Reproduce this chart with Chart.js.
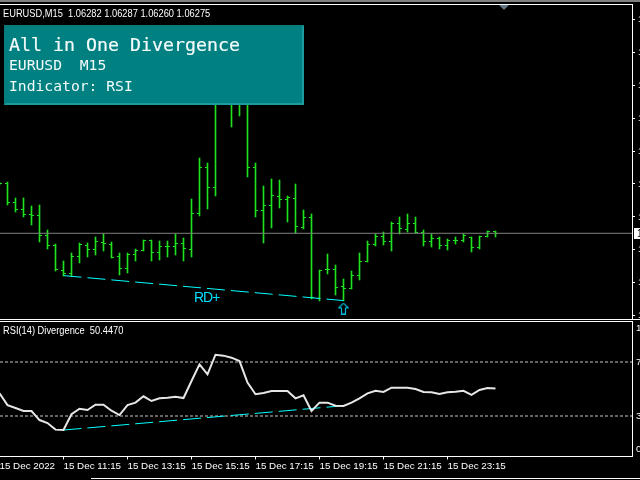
<!DOCTYPE html>
<html><head><meta charset="utf-8"><title>EURUSD M15 RSI Divergence</title>
<script src="https://cdn.jsdelivr.net/npm/chart.js@4"></script>
<style>
html,body{margin:0;padding:0;background:#000;width:640px;height:480px;overflow:hidden}
#wrap{position:relative;width:640px;height:480px;overflow:hidden;background:#000}
canvas{position:absolute;left:0}
.abs{position:absolute;white-space:pre;line-height:1}
.lbl{color:#fff;font:11px "Liberation Sans",sans-serif;transform:scaleX(.845);transform-origin:left top}
.w{position:absolute;background:#fff}
#panel{position:absolute;left:4px;top:25px;width:296px;height:76px;background:#008080;border:2px solid #109090;border-right-color:#1c9c9c;border-bottom-color:#1c9c9c;border-left-color:#0a7a7a;border-top-color:#0a7a7a}
#panel div{position:absolute;color:#f4fbfb;font-family:"DejaVu Sans Mono",monospace;white-space:pre;line-height:1}
</style></head><body>
<div id="wrap">
<canvas id="priceChart" width="640" height="320" style="top:0;width:640px;height:320px"></canvas>
<canvas id="rsiChart" width="640" height="160" style="top:320px;width:640px;height:160px"></canvas>
<div class="abs" style="left:0;top:0;width:640px;height:2px;background:#808080"></div>
<div class="abs" style="left:-2px;top:4px;width:633px;height:314px;border:1px solid #fff"></div>
<div class="w" style="left:0;top:319px;width:640px;height:1px"></div>
<div class="abs" style="left:-2px;top:321px;width:633px;height:134px;border:1px solid #fff"></div>
<div class="w" style="left:91px;top:478px;width:549px;height:1px"></div>
<div class="abs" style="left:499px;top:5px;width:0;height:0;border-left:5px solid transparent;border-right:5px solid transparent;border-top:5px solid #607585"></div>
<div class="abs lbl" id="legendPrice" style="left:3px;top:7px"></div>
<div class="abs lbl" id="legendRsi" style="left:3px;top:324px"></div>
<div class="abs" style="left:194px;top:289px;color:#00e0ff;font:14px 'Liberation Sans',sans-serif;letter-spacing:-1px">RD+</div>
<div class="abs" id="priceBox" style="left:634px;top:228px;width:6px;height:11px;background:#fff;overflow:hidden;color:#000;font:10px 'Liberation Sans',sans-serif"><span id="priceTxt" style="position:absolute;left:3px;top:0"></span></div>
<div id="panel">
<div style="left:3px;top:9px;font-size:18.3px;-webkit-text-stroke:.2px #f4fbfb">All in One Divergence</div>
<div style="left:3px;top:31px;font-size:14.7px">EURUSD  M15</div>
<div style="left:3px;top:52px;font-size:14.7px">Indicator: RSI</div>
</div>
</div>
<script>
const barNumbers=[-1,0,1,2,3,4,5,6,7,8,9,10,11,12,13,14,15,16,17,18,19,20,21,22,23,24,25,26,27,28,29,30,31,32,33,34,35,36,37,38,39,40,41,42,43,44,45,46,47,48,49,50,51,52,53,54,55,56,57,58,59,60,61];
const opens=[1.06503,1.06503,1.06416,1.06384,1.06362,1.06357,1.06266,1.06220,1.06106,1.06093,1.06171,1.06220,1.06202,1.06232,1.06225,1.06170,1.06115,1.06179,1.06197,1.06243,1.06188,1.06216,1.06216,1.06229,1.06202,1.06364,1.06573,1.06482,1.06951,1.07020,1.06906,1.06974,1.06576,1.06380,1.06403,1.06444,1.06430,1.06435,1.06302,1.06348,1.05979,1.06111,1.06111,1.06031,1.06024,1.06083,1.06147,1.06225,1.06261,1.06239,1.06321,1.06293,1.06321,1.06280,1.06239,1.06252,1.06220,1.06243,1.06240,1.06257,1.06211,1.06261,1.06282];
const highs=[1.06510,1.06509,1.06436,1.06436,1.06399,1.06404,1.06290,1.06225,1.06147,1.06184,1.06229,1.06229,1.06258,1.06273,1.06234,1.06184,1.06184,1.06202,1.06243,1.06243,1.06240,1.06240,1.06273,1.06252,1.06431,1.06617,1.06596,1.07020,1.07065,1.07042,1.06997,1.06997,1.06594,1.06491,1.06523,1.06518,1.06445,1.06500,1.06380,1.06363,1.06108,1.06181,1.06130,1.06067,1.06102,1.06185,1.06240,1.06273,1.06281,1.06327,1.06349,1.06363,1.06349,1.06290,1.06272,1.06257,1.06249,1.06258,1.06272,1.06257,1.06261,1.06285,1.06287];
const lows=[1.06495,1.06404,1.06373,1.06351,1.06313,1.06235,1.06205,1.06103,1.06082,1.06082,1.06141,1.06168,1.06177,1.06196,1.06164,1.06086,1.06093,1.06150,1.06196,1.06150,1.06155,1.06168,1.06177,1.06150,1.06168,1.06355,1.06387,1.06446,1.06906,1.06761,1.06811,1.06533,1.06351,1.06232,1.06301,1.06392,1.06328,1.06275,1.06296,1.05974,1.05968,1.06091,1.05995,1.05968,1.06021,1.06062,1.06145,1.06217,1.06222,1.06194,1.06273,1.06282,1.06275,1.06217,1.06213,1.06203,1.06199,1.06226,1.06235,1.06190,1.06203,1.06259,1.06260];
const closes=[1.06503,1.06415,1.06384,1.06362,1.06358,1.06266,1.06220,1.06111,1.06093,1.06171,1.06222,1.06202,1.06239,1.06229,1.06166,1.06115,1.06179,1.06196,1.06240,1.06188,1.06216,1.06216,1.06229,1.06207,1.06366,1.06573,1.06482,1.06951,1.07020,1.06906,1.06974,1.06576,1.06380,1.06403,1.06448,1.06430,1.06439,1.06304,1.06348,1.05980,1.06106,1.06111,1.06029,1.06024,1.06083,1.06147,1.06225,1.06261,1.06239,1.06321,1.06298,1.06321,1.06280,1.06239,1.06252,1.06220,1.06243,1.06243,1.06266,1.06211,1.06261,1.06281,1.06275];
const rsiValues=[46.8,38.1,35.9,33.7,33.7,27.0,24.8,19.9,19.6,31.3,35.4,34.4,38.4,38.4,33.9,30.7,38.1,39.9,44.6,41.1,43.1,43.6,44.3,43.3,55.9,68.3,60.9,75.4,74.7,73.2,70.7,54.7,46.1,47.0,48.5,48.5,48.5,43.1,45.3,33.7,39.9,39.9,37.6,37.4,39.9,43.1,46.8,48.7,47.8,51.0,51.0,51.0,50.0,47.8,47.6,46.3,47.6,48.0,48.7,45.6,49.3,50.7,50.447];
const priceTicks=[1.0725,1.0710,1.0695,1.0680,1.0665,1.0650,1.0635,1.0620,1.0605,1.0590];
const rsiTickSpots=[95.2,70,30,5.2];
const rsiTickLabels=['100','70','30','0'];
const rsiLevels=[70,30];
const timeTickBars=[-1,7,15,23,31,39,47,55];
const timeTickLabels=['15 Dec 2022','15 Dec 11:15','15 Dec 13:15','15 Dec 15:15','15 Dec 17:15','15 Dec 19:15','15 Dec 21:15','15 Dec 23:15'];
const priceDivBars=[7,42];
const priceDivValues=[1.06082,1.05968];
const rsiDivValues=[19.6,37.6];
const arrowBar=42, arrowPrice=1.05932;
const bidPrice=1.06275;
const symbolTitle='EURUSD,M15', legendOHLC='1.06282 1.06287 1.06260 1.06275', rsiLegend='RSI(14) Divergence', rsiLast='50.4470';
const xMin=-0.9375,xMax=78.0625,priceMin=1.05884,priceMax=1.07321;

const GREEN='#1ee01e',CYAN='#00ffff';
document.getElementById('legendPrice').textContent=symbolTitle+'  '+legendOHLC;
document.getElementById('legendRsi').textContent=rsiLegend+'  '+rsiLast;
document.getElementById('priceTxt').textContent=bidPrice.toFixed(5);

function tickMark(side){const c=document.createElement('canvas');c.width=5;c.height=1;const g=c.getContext('2d');g.fillStyle=GREEN;g.fillRect(side<0?0:3,0,2,1);return c;}
function arrowMark(){const c=document.createElement('canvas');c.width=11;c.height=12;const g=c.getContext('2d');g.strokeStyle='#00b8d8';g.lineWidth=1.2;g.beginPath();g.moveTo(5.5,.7);g.lineTo(10.3,5.5);g.lineTo(7.5,5.5);g.lineTo(7.5,11.3);g.lineTo(3.5,11.3);g.lineTo(3.5,5.5);g.lineTo(.7,5.5);g.closePath();g.stroke();return c;}
const snap={id:'snap',beforeDatasetsDraw(chart){chart.getSortedVisibleDatasetMetas().forEach(m=>{if(m.type==='bar'){m.data.forEach(b=>{b.y=Math.round(b.y);b.base=Math.round(b.base);});}else if(m.dataset&&!m.dataset.options.borderWidth){m.data.forEach(p=>{p.y=Math.floor(p.y)+.5;});}});}};
const noPad=s=>{s.paddingLeft=s.paddingRight=s.paddingTop=s.paddingBottom=0;};
const xBase={type:'linear',min:xMin,max:xMax,offset:false};
const font={family:'Liberation Sans',size:9.8};

new Chart(document.getElementById('priceChart'),{
 type:'bar',
 plugins:[snap],
 data:{datasets:[
  {type:'line',order:0,data:[{x:xMin,y:bidPrice},{x:xMax,y:bidPrice}],borderColor:'#808080',borderWidth:1,pointRadius:0},
  {type:'line',order:1,data:priceDivBars.map((b,i)=>({x:b,y:priceDivValues[i]})),borderColor:CYAN,borderWidth:1,borderDash:[18,6],pointRadius:0},
  {type:'line',order:1,data:[{x:arrowBar,y:arrowPrice}],showLine:false,pointStyle:arrowMark(),pointRadius:6,borderWidth:0},
  {type:'line',order:2,data:barNumbers.map((b,i)=>({x:b,y:opens[i]})),showLine:false,pointStyle:tickMark(-1),pointRadius:3,borderWidth:0},
  {type:'line',order:2,data:barNumbers.map((b,i)=>({x:b,y:closes[i]})),showLine:false,pointStyle:tickMark(1),pointRadius:3,borderWidth:0},
  {type:'bar',order:3,data:barNumbers.map((b,i)=>({x:b,y:[lows[i],highs[i]]})),backgroundColor:GREEN,barThickness:1,borderWidth:0}
 ]},
 options:{responsive:false,animation:false,devicePixelRatio:1,
  layout:{autoPadding:false,padding:{top:4,bottom:1,left:0,right:0}},
  plugins:{legend:{display:false},tooltip:{enabled:false},title:{display:false}},
  scales:{
   x:{...xBase,display:true,border:{display:false},grid:{display:false,offset:false},ticks:{display:false},afterFit(s){s.height=0;noPad(s);}},
   y:{position:'right',min:priceMin,max:priceMax,
    afterFit(s){s.width=8;noPad(s);},
    afterBuildTicks(s){s.ticks=priceTicks.map(v=>({value:v}));},
    border:{display:false},
    grid:{drawOnChartArea:false,tickLength:3,tickColor:'#fff'},
    ticks:{color:'#fff',font,padding:3,crossAlign:'near',autoSkip:false,callback:v=>v.toFixed(5)}}
  }}
});

new Chart(document.getElementById('rsiChart'),{
 type:'line',
 data:{datasets:[
  {order:0,data:barNumbers.map((b,i)=>({x:b,y:rsiValues[i]})),borderColor:'#e6e6e6',borderWidth:2,pointRadius:0,tension:0},
  {order:1,data:priceDivBars.map((b,i)=>({x:b,y:rsiDivValues[i]})),borderColor:CYAN,borderWidth:1,borderDash:[18,6],pointRadius:0},
  ...rsiLevels.map(l=>({order:2,data:[{x:xMin,y:l},{x:xMax,y:l}],borderColor:'#c8c8c8',borderWidth:1,borderDash:[3,2],pointRadius:0}))
 ]},
 options:{responsive:false,animation:false,devicePixelRatio:1,
  layout:{autoPadding:false,padding:{top:1.5,bottom:0,left:0,right:0}},
  plugins:{legend:{display:false},tooltip:{enabled:false},title:{display:false}},
  scales:{
   x:{...xBase,position:'bottom',
    afterFit(s){s.height=23.5;noPad(s);},
    afterBuildTicks(s){s.ticks=timeTickBars.map(v=>({value:v}));},
    border:{display:false},
    grid:{drawOnChartArea:false,tickLength:3,tickColor:'#fff'},
    ticks:{color:'#fff',font,padding:1,align:'start',maxRotation:0,autoSkip:false,callback:v=>timeTickLabels[timeTickBars.indexOf(v)]}},
   y:{position:'right',min:0,max:100,
    afterFit(s){s.width=8;noPad(s);},
    afterBuildTicks(s){s.ticks=rsiTickSpots.map(v=>({value:v}));},
    border:{display:false},
    grid:{drawOnChartArea:false,tickLength:2,tickColor:'transparent'},
    ticks:{color:'#fff',font,padding:2,crossAlign:'near',autoSkip:false,
     callback:v=>rsiTickLabels[rsiTickSpots.indexOf(v)]}}
  }}
});
</script>
</body></html>
